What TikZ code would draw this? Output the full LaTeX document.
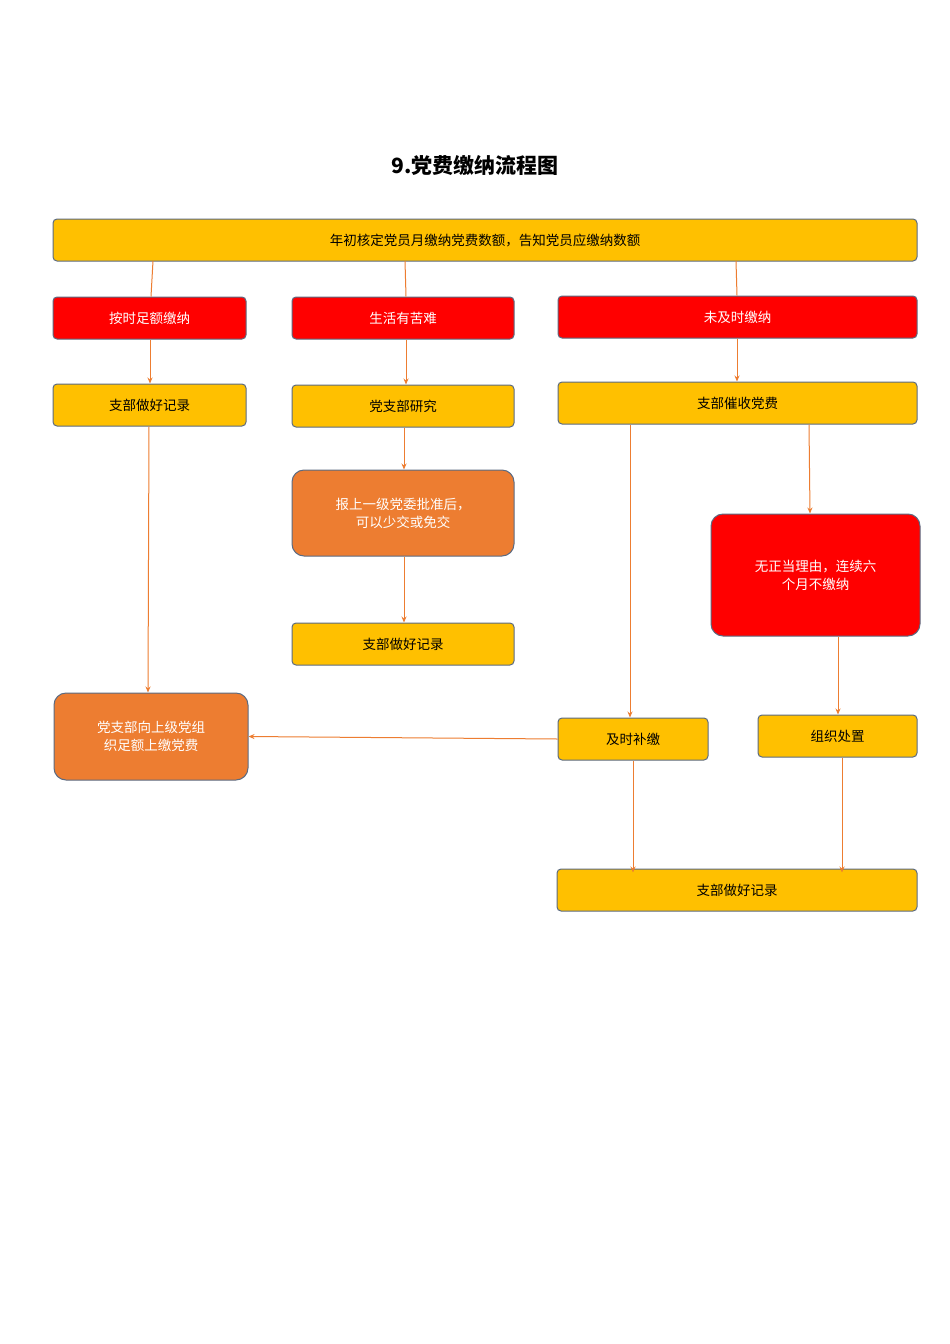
\documentclass[tikz,border=0pt]{standalone}
\usepackage{fontspec}
\setmainfont{Noto Sans CJK SC}
\usetikzlibrary{arrows.meta}
\definecolor{yel}{HTML}{FFC000}
\definecolor{rd}{HTML}{FF0000}
\definecolor{org}{HTML}{ED7D31}
\definecolor{bd}{HTML}{5B6B82}
\tikzset{
 box/.style={draw=bd,line width=1pt,rounded corners=4pt,inner sep=0pt,align=center,font=\fontsize{13.5}{18}\selectfont},
 yb/.style={box,fill=yel,text=black},
 rb/.style={box,fill=rd,text=white},
 ob/.style={box,fill=org,text=white,rounded corners=12pt},
 ln/.style={draw=org,line width=1pt},
 ar/.style={ln,-{Stealth[length=6pt,width=5pt]}}
}
\newcommand{\bx}[6]{\node[#1,minimum width=#4pt-#3pt,minimum height=#6pt-#5pt] (#2) at ({(#3+#4)/2},{(#5+#6)/2})}
\begin{document}
\begin{tikzpicture}[x=1pt,y=-1pt]
\useasboundingbox[fill=white] (0,0) rectangle (950,1344);
\node[font=\fontsize{21}{24}\selectfont\bfseries] (title) at (475,165) {9.党费缴纳流程图};
\bx{yb}{top}{53}{917}{219}{261} {年初核定党员月缴纳党费数额，告知党员应缴纳数额};
\bx{rb}{r1}{53}{246}{297}{339} {按时足额缴纳};
\bx{rb}{r2}{292}{514}{297}{339} {生活有苦难};
\bx{rb}{r3}{558}{917}{296}{338} {未及时缴纳};
\bx{yb}{y1}{53}{246}{384}{426} {支部做好记录};
\bx{yb}{y2}{292}{514}{385}{427} {党支部研究};
\bx{yb}{y3}{558}{917}{382}{424} {支部催收党费};
\bx{ob}{o2}{292}{514}{470}{556} {报上一级党委批准后，\\可以少交或免交};
\bx{yb}{y2b}{292}{514}{623}{665} {支部做好记录};
\bx{rb,rounded corners=12pt}{rr}{711}{920}{514}{636} {无正当理由，连续六\\个月不缴纳};
\bx{ob}{o1}{54}{248}{693}{780} {党支部向上级党组\\织足额上缴党费};
\bx{yb}{bj}{558}{708}{718}{760} {及时补缴};
\bx{yb}{zz}{758}{917}{715}{757} {组织处置};
\bx{yb}{fin}{557}{917}{869}{911} {支部做好记录};
\draw[ln] (153,261) -- (r1.north -| 151,0);
\draw[ln] (405,261) -- (r2.north -| 406,0);
\draw[ln] (736,261) -- (r3.north -| 737,0);
\draw[ar] (r1.south -| 150,0) -- (y1.north -| 150,0);
\draw[ar] (r2.south -| 406,0) -- (y2.north -| 406,0);
\draw[ar] (r3.south -| 737,0) -- (y3.north -| 737,0);
\draw[ar] (y1.south -| 149,0) -- (o1.north -| 148,0);
\draw[ar] (y2.south -| 404,0) -- (o2.north -| 404,0);
\draw[ar] (o2.south -| 404,0) -- (y2b.north -| 404,0);
\draw[ar] (y3.south -| 630,0) -- (bj.north -| 630,0);
\draw[ar] (y3.south -| 809,0) -- (rr.north -| 810,0);
\draw[ar] (rr.south -| 838,0) -- (zz.north -| 838,0);
\draw[ar] (bj.west) -- (o1.east);
\draw[ar] (bj.south -| 633,0) -- ([yshift=-4pt]fin.north -| 633,0);
\draw[ar] (zz.south -| 842,0) -- ([yshift=-4pt]fin.north -| 842,0);
\end{tikzpicture}
\end{document}
